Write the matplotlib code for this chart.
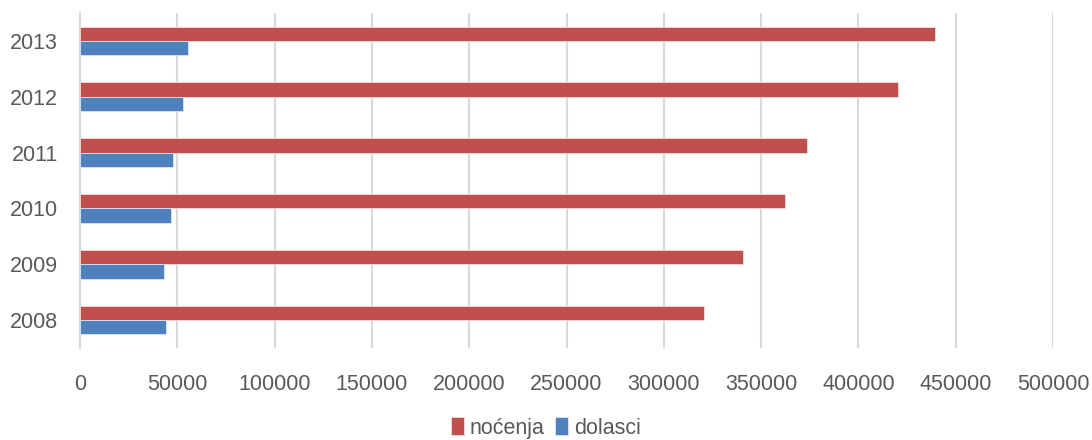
import numpy as np
from matplotlib import pyplot as plt

years = ['2008', '2009', '2010', '2011', '2012', '2013']
nocenja = [320700, 340500, 362400, 373400, 420400, 439400]
dolasci = [44000, 43100, 46550, 47600, 52700, 55300]

red = '#C0504D'
blue = '#4F81BD'
txt = '#595959'
grid = '#D9D9D9'

plt.rcParams['font.family'] = ['Liberation Sans', 'DejaVu Sans']

fig = plt.figure(figsize=(10.92, 4.4), dpi=100)
ax = fig.add_axes([80/1092, 1 - 348/440, (1053-80)/1092, (348-13)/440])

y = np.arange(len(years))
h = 0.256
ax.barh(y + h/2, nocenja, height=h, color=red, edgecolor='#F2DCDB', linewidth=0.6, label='noćenja', zorder=3)
ax.barh(y - h/2, dolasci, height=h, color=blue, edgecolor='#DCE6F2', linewidth=0.6, label='dolasci', zorder=3)

ax.set_xlim(0, 500000)
ax.set_ylim(-0.5, len(years) - 0.5)
ax.set_xticks(np.arange(0, 500001, 50000))
ax.set_xticklabels([str(v) for v in range(0, 500001, 50000)])
ax.set_yticks(y)
ax.set_yticklabels(years)
ax.tick_params(axis='both', length=0, labelsize=15.5, colors=txt)
ax.tick_params(axis='x', pad=19)
ax.tick_params(axis='y', pad=16)

ax.grid(axis='x', color=grid, linewidth=1.5, zorder=0)
for s in ['top', 'right', 'bottom']:
    ax.spines[s].set_visible(False)
ax.spines['left'].set_color(grid)
ax.spines['left'].set_linewidth(1.5)

fig.legend(loc='center', bbox_to_anchor=(0.5, 1 - 428/440), ncol=2, frameon=False,
           fontsize=15.5, handlelength=0.6, handleheight=0.9, handletextpad=0.25,
           columnspacing=0.5, labelcolor=txt)

fig.savefig('out.png', dpi=100)
